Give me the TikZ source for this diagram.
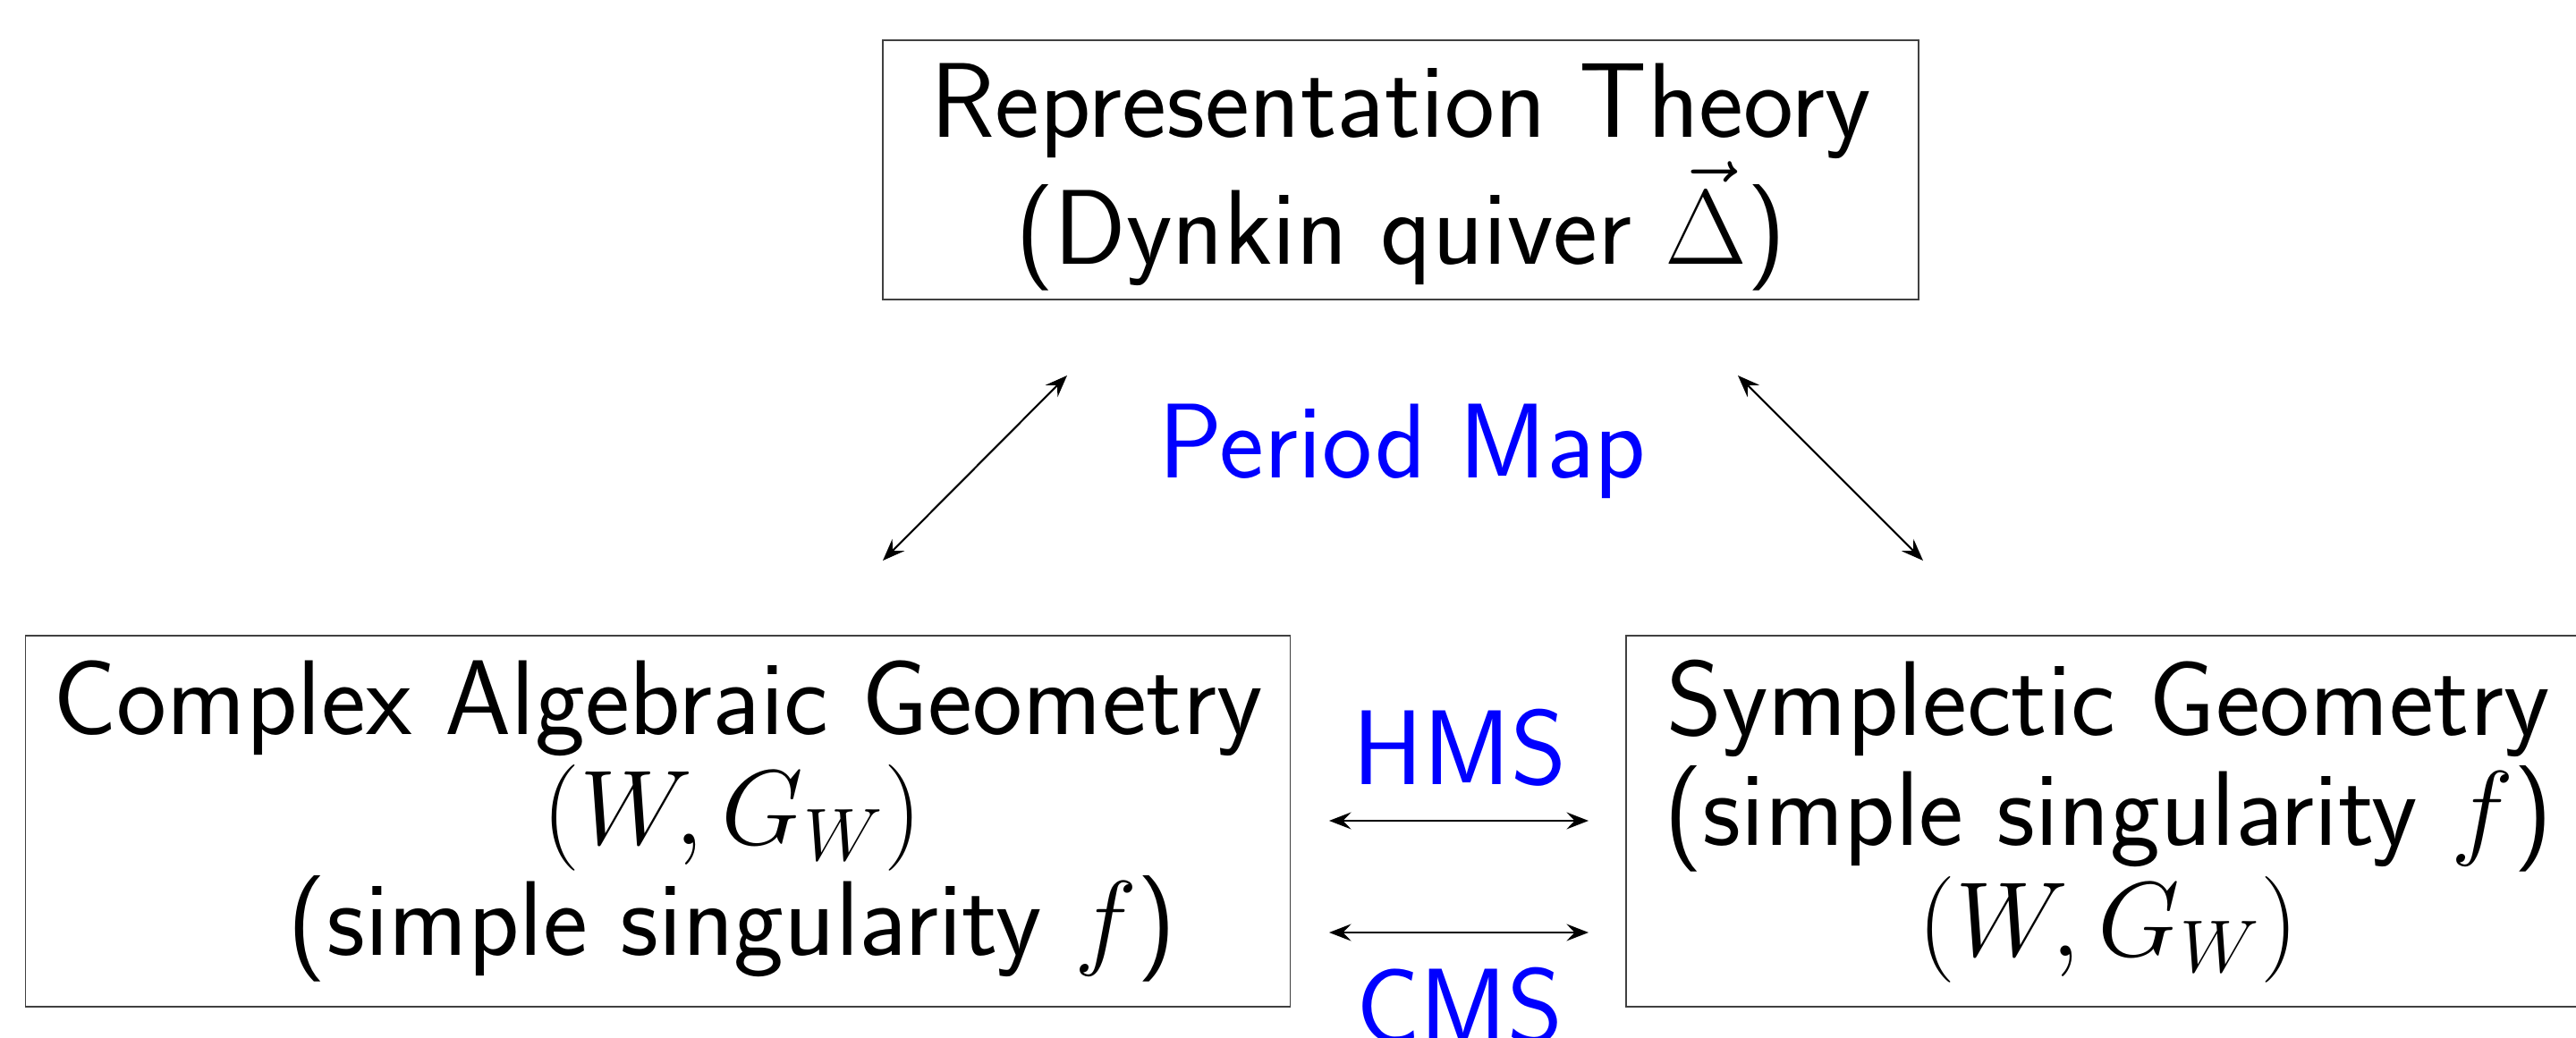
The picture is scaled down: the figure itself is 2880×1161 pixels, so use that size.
\RequirePackage{fix-cm}
\documentclass[tikz,border=0pt]{standalone}
\usetikzlibrary{arrows.meta}
\tikzset{
  txt/.style={font=\fontsize{33.8}{35.2}\selectfont\sffamily, inner sep=0pt},
  box/.style={txt, draw=black!75, line width=0.5pt, align=center},
  lbl/.style={txt, text=blue, anchor=base},
  dbl/.style={line width=0.6pt, {Stealth[length=7pt,width=5.4pt,inset=2.6pt]}-{Stealth[length=7pt,width=5.4pt,inset=2.6pt]}}
}
\begin{document}
\begin{tikzpicture}[x=0.01cm,y=-0.01cm]
\useasboundingbox (0,0) rectangle (2880,1161);
\node[box, minimum width=11.58cm, minimum height=2.90cm] (rep) at (1566,190)
  {\rule{0pt}{28pt}Representation Theory\\(Dynkin quiver $\vec{\Delta}$)};
\node[box, minimum width=14.13cm, minimum height=4.15cm] (cag) at (735.5,918.5)
  {Complex Algebraic Geometry\\\hspace*{1.66cm}$(W,G_W)$\\\hspace*{1.66cm}(simple singularity $f$)};
\node[box, minimum width=10.78cm, minimum height=4.15cm] (sym) at (2357,918.5)
  {Symplectic Geometry\\(simple singularity $f$)\\$(W,G_W)$};
\node[lbl] (pm) at (1568,535) {Period Map};
\node[lbl] (hms) at (1632,877) {HMS};
\node[lbl] (cms) at (1632,1166) {CMS};
\coordinate (l1) at (987,627);
\coordinate (l2) at (1193,420);
\coordinate (r1) at (1943,420);
\coordinate (r2) at (2150,627);
\coordinate (h1) at (1486,918);
\coordinate (h2) at (1776,918);
\coordinate (c1) at (1486,1043);
\coordinate (c2) at (1776,1043);
\draw[dbl] (l1) -- (l2);
\draw[dbl] (r1) -- (r2);
\draw[dbl] (h1) -- (h2);
\draw[dbl] (c1) -- (c2);
\end{tikzpicture}
\end{document}
